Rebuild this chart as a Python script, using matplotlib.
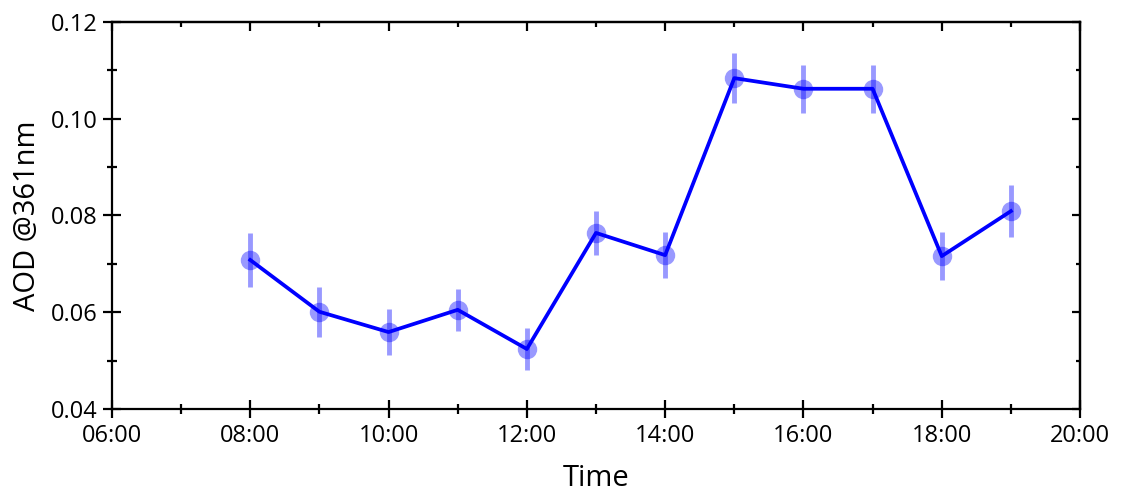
import matplotlib.pyplot as plt
from matplotlib.ticker import MultipleLocator, FuncFormatter

# hourly AOD readings at 361 nm
times = ['08:00', '09:00', '10:00', '11:00', '12:00', '13:00',
         '14:00', '15:00', '16:00', '17:00', '18:00', '19:00']
aod = [0.0708, 0.0601, 0.0559, 0.0605, 0.0524, 0.0764,
       0.0718, 0.1084, 0.1062, 0.1062, 0.0716, 0.0809]
aod_err = [0.0055, 0.0052, 0.0047, 0.0043, 0.0043, 0.0045,
           0.0048, 0.0052, 0.0050, 0.0050, 0.0049, 0.0054]

plt.rcParams['font.family'] = ['Open Sans', 'DejaVu Sans']

hours = [int(t.split(':')[0]) for t in times]

fig = plt.figure(figsize=(11.24, 4.99), dpi=100)
ax = fig.add_axes([0.0996, 0.1804, 0.8613, 0.7755])

ax.errorbar(hours, aod, yerr=aod_err, fmt='o', color='#0000ff', alpha=0.4,
            markersize=14, markeredgewidth=0, elinewidth=3.5, capsize=0, zorder=2)
ax.plot(hours, aod, color='#0000ff', linewidth=2.7, zorder=3)

ax.set_xlim(6, 20)
ax.set_ylim(0.04, 0.12)
ax.xaxis.set_major_locator(MultipleLocator(2))
ax.xaxis.set_minor_locator(MultipleLocator(1))
ax.yaxis.set_major_locator(MultipleLocator(0.02))
ax.yaxis.set_minor_locator(MultipleLocator(0.01))
ax.xaxis.set_major_formatter(FuncFormatter(lambda v, p: '%02d:00' % int(round(v))))
ax.yaxis.set_major_formatter(FuncFormatter(lambda v, p: '%.2f' % v))

for s in ax.spines.values():
    s.set_linewidth(1.6)

# bottom / left: ticks cross the spine
ax.tick_params(which='both', direction='inout', width=1.6, labelsize=17, pad=4)
ax.tick_params(which='major', length=13)
ax.tick_params(which='minor', length=7.5)

# top / right: short inward ticks, no labels
top = ax.secondary_xaxis('top')
top.xaxis.set_major_locator(MultipleLocator(2))
top.xaxis.set_minor_locator(MultipleLocator(1))
top.tick_params(which='both', direction='in', width=1.6, labeltop=False)
top.tick_params(which='major', length=6.5)
top.tick_params(which='minor', length=3.5)
top.spines['top'].set_linewidth(1.6)

right = ax.secondary_yaxis('right')
right.yaxis.set_major_locator(MultipleLocator(0.02))
right.yaxis.set_minor_locator(MultipleLocator(0.01))
right.tick_params(which='both', direction='in', width=1.6, labelright=False)
right.tick_params(which='major', length=5.5)
right.tick_params(which='minor', length=3)
right.spines['right'].set_linewidth(1.6)

ax.set_xlabel('Time', fontsize=21, labelpad=12)
ax.set_ylabel('AOD @361nm', fontsize=21, labelpad=6)

fig.savefig('out.png', dpi=100)
